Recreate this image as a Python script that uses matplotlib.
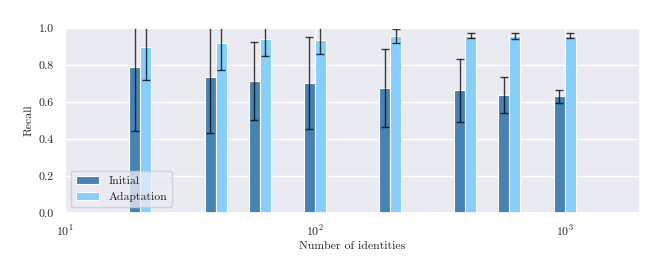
import numpy as np
import matplotlib
matplotlib.use("Agg")
import matplotlib.pyplot as plt
import seaborn as sns

identities = [20, 40, 60, 100, 200, 400, 600, 1000]
initial = [0.789, 0.735, 0.714, 0.703, 0.676, 0.663, 0.636, 0.631]
initial_err = [0.346, 0.303, 0.21, 0.25, 0.21, 0.17, 0.097, 0.035]
adaptation = [0.897, 0.919, 0.94, 0.935, 0.957, 0.958, 0.957, 0.957]
adaptation_err = [0.178, 0.146, 0.09, 0.075, 0.036, 0.015, 0.018, 0.013]

sns.set_theme(style="darkgrid")
plt.rcParams["font.family"] = ["cmr10", "DejaVu Serif"]
plt.rcParams["mathtext.fontset"] = "cm"
plt.rcParams["axes.formatter.use_mathtext"] = True

fig = plt.figure(figsize=(6.64, 2.74), dpi=100)
ax = fig.add_axes([0.098, 0.223, 0.866, 0.675])

x = np.array(identities, dtype=float)
f = 10 ** 0.044
ax.bar(x / f, initial, width=x - x / f, align="edge", color="#4682B4",
       edgecolor="white", linewidth=0.8, label="Initial")
ax.bar(x, adaptation, width=x * f - x, align="edge", color="#87CEFA",
       edgecolor="white", linewidth=0.8, label="Adaptation")
ax.errorbar(x / np.sqrt(f), initial, yerr=initial_err, fmt="none",
            ecolor="black", alpha=0.75, capsize=3, elinewidth=1)
ax.errorbar(x * np.sqrt(f), adaptation, yerr=adaptation_err, fmt="none",
            ecolor="black", alpha=0.75, capsize=3, elinewidth=1)

ax.set_xscale("log")
ax.set_xlim(10, 2000)
ax.set_ylim(0, 1.0)
ax.set_yticks(np.arange(0, 1.01, 0.2))
ax.set_yticklabels([f"{v:.1f}" for v in np.arange(0, 1.01, 0.2)])
ax.tick_params(labelsize=8.5, pad=2)
ax.minorticks_off()
ax.set_xlabel("Number of identities", fontsize=8.5, labelpad=2)
ax.set_ylabel("Recall", fontsize=8.5, labelpad=4)
ax.legend(loc="lower left", fontsize=8.5, frameon=True)

fig.savefig("out.png", dpi=100)
